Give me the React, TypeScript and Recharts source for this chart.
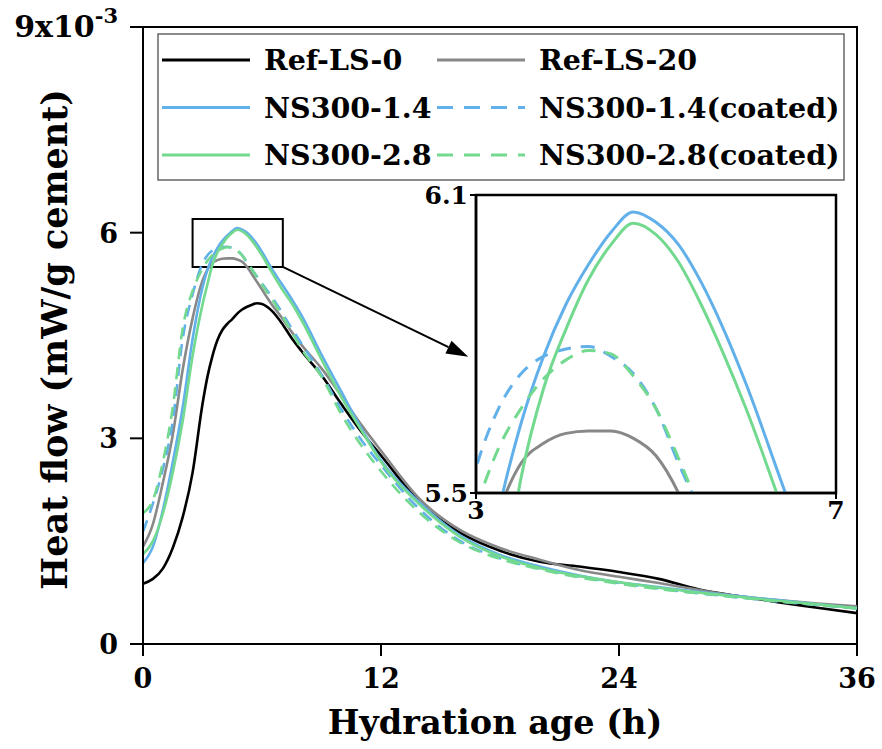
import React from 'react';
import { LineChart, Line, XAxis, YAxis, ReferenceArea, ReferenceLine } from 'recharts';

const hours = [0, 0.5, 1, 1.5, 2, 2.5, 3, 3.25, 3.5, 3.75, 4, 4.25, 4.5, 4.75, 5, 5.25, 5.5, 5.75, 6, 6.5, 7, 7.5, 8, 9, 10, 11, 12, 14, 16, 18, 20, 22, 24, 26, 28, 30, 32, 34, 36];

const refLS0 = [0.88, 0.95, 1.1, 1.4, 1.85, 2.5, 3.5, 3.9, 4.2, 4.43, 4.58, 4.67, 4.74, 4.82, 4.88, 4.92, 4.95, 4.97, 4.96, 4.86, 4.68, 4.46, 4.27, 3.92, 3.5, 3.1, 2.75, 2.05, 1.62, 1.36, 1.2, 1.13, 1.05, 0.95, 0.8, 0.7, 0.61, 0.53, 0.45];
const refLS20 = [1.42, 1.75, 2.35, 3.05, 4.0, 4.75, 5.3, 5.46, 5.56, 5.6, 5.62, 5.625, 5.625, 5.61, 5.575, 5.5, 5.39, 5.28, 5.17, 4.95, 4.76, 4.55, 4.36, 4.02, 3.62, 3.2, 2.82, 2.1, 1.66, 1.4, 1.23, 1.08, 0.98, 0.89, 0.79, 0.7, 0.64, 0.59, 0.55];
const ns14 = [1.18, 1.42, 1.95, 2.65, 3.45, 4.45, 5.2, 5.46, 5.64, 5.775, 5.88, 5.96, 6.025, 6.066, 6.045, 6.0, 5.925, 5.83, 5.72, 5.47, 5.25, 5.03, 4.79, 4.22, 3.68, 3.15, 2.68, 2.05, 1.58, 1.3, 1.13, 1.0, 0.9, 0.83, 0.76, 0.7, 0.64, 0.58, 0.52];
const ns14c = [1.64, 2.05, 2.55, 3.25, 4.45, 5.1, 5.55, 5.67, 5.74, 5.775, 5.79, 5.795, 5.775, 5.74, 5.67, 5.56, 5.46, 5.36, 5.26, 5.06, 4.84, 4.6, 4.38, 3.93, 3.42, 2.98, 2.61, 1.95, 1.5, 1.25, 1.1, 0.98, 0.89, 0.81, 0.74, 0.68, 0.62, 0.57, 0.52];
const ns28 = [1.31, 1.5, 1.9, 2.5, 3.25, 4.2, 4.95, 5.25, 5.53, 5.71, 5.83, 5.93, 6.0, 6.043, 6.02, 5.965, 5.88, 5.78, 5.67, 5.42, 5.18, 4.97, 4.72, 4.15, 3.6, 3.12, 2.66, 2.02, 1.56, 1.28, 1.11, 0.99, 0.9, 0.82, 0.75, 0.69, 0.63, 0.58, 0.52];
const ns28c = [1.91, 2.1, 2.65, 3.45, 4.6, 5.15, 5.47, 5.59, 5.67, 5.73, 5.768, 5.787, 5.78, 5.735, 5.67, 5.57, 5.46, 5.35, 5.24, 5.03, 4.8, 4.55, 4.3, 3.9, 3.35, 2.9, 2.52, 1.9, 1.48, 1.24, 1.09, 0.97, 0.88, 0.8, 0.74, 0.68, 0.62, 0.57, 0.52];

const xTicks = [0, 12, 24, 36];
const yTicks = [0, 3, 6, 9];
const insetXTicks = [3, 7];
const insetYTicks = [5.5, 6.1];

const data = hours.map((h, i) => ({
  h,
  refLS0: refLS0[i],
  refLS20: refLS20[i],
  ns14: ns14[i],
  ns14c: ns14c[i],
  ns28: ns28[i],
  ns28c: ns28c[i],
}));

const BLUE = '#62b0ea';
const GREEN = '#72d98e';
const GRAY = '#888888';

const series = [
  { key: 'refLS0', name: 'Ref-LS-0', color: '#000', dash: undefined },
  { key: 'refLS20', name: 'Ref-LS-20', color: GRAY, dash: undefined },
  { key: 'ns14', name: 'NS300-1.4', color: BLUE, dash: undefined },
  { key: 'ns14c', name: 'NS300-1.4(coated)', color: BLUE, dash: '12 8' },
  { key: 'ns28', name: 'NS300-2.8', color: GREEN, dash: undefined },
  { key: 'ns28c', name: 'NS300-2.8(coated)', color: GREEN, dash: '12 8' },
];

const FONT = '"DejaVu Serif", serif';
const tickStyle = { fill: '#000', fontSize: 27, fontWeight: 'bold', fontFamily: FONT };

const YTick = (props: any) => {
  const { x, y, payload } = props;
  if (payload.value === 9) {
    return (
      <text x={x} y={y + 10} textAnchor="end" style={{ ...tickStyle, fontSize: 30 }}>
        <tspan>9x10</tspan>
        <tspan dy={-14} fontSize={21}>-3</tspan>
      </text>
    );
  }
  return (
    <text x={x} y={y + 10} textAnchor="end" style={tickStyle}>{payload.value}</text>
  );
};

const Arrow = (props: any) => {
  const { x1, y1, x2, y2 } = props;
  const ang = Math.atan2(y2 - y1, x2 - x1);
  const L = 22, W = 7;
  const bx = x2 - L * Math.cos(ang), by = y2 - L * Math.sin(ang);
  const px = -Math.sin(ang) * W, py = Math.cos(ang) * W;
  return (
    <g>
      <line x1={x1} y1={y1} x2={bx} y2={by} stroke="#000" strokeWidth={2} />
      <polygon points={`${x2},${y2} ${bx + px},${by + py} ${bx - px},${by - py}`} fill="#000" />
    </g>
  );
};

function LegendBox() {
  const rows = [
    [series[0], series[1]],
    [series[2], series[3]],
    [series[4], series[5]],
  ];
  return (
    <svg width={688} height={148} style={{ position: 'absolute', left: 157, top: 33 }}>
      <rect x={1} y={1} width={686} height={146} fill="#fff" stroke="#666" strokeWidth={1.5} />
      {rows.map((r, i) => {
        const cy = 27 + i * 47.5;
        return (
          <g key={i}>
            {r.map((s, j) => {
              const lx = j === 0 ? 5 : 280;
              return (
                <g key={s.key}>
                  <line x1={lx} x2={lx + 88} y1={cy} y2={cy} stroke={s.color} strokeWidth={3} strokeDasharray={s.dash ? '16 11' : undefined} />
                  <text x={lx + 102} y={cy} dominantBaseline="central" style={{ fontFamily: FONT, fontWeight: 'bold', fontSize: 28.5, fill: '#000' }}>{s.name}</text>
                </g>
              );
            })}
          </g>
        );
      })}
    </svg>
  );
}

export default function App() {
  return (
    <div style={{ position: 'absolute', left: 0, top: 0, width: 882, height: 749, background: '#fff', fontFamily: FONT }}>
      <LineChart width={882} height={749} data={data} margin={{ top: 27, right: 25, bottom: 45, left: 20 }}>
        <XAxis
          dataKey="h"
          type="number"
          domain={[0, 36]}
          ticks={xTicks}
          interval={0}
          height={60}
          tickSize={12}
          tickMargin={13}
          tick={tickStyle}
          tickLine={{ stroke: '#000', strokeWidth: 2 }}
          axisLine={{ stroke: '#000', strokeWidth: 2 }}
          label={{
            content: (p: any) => (
              <text x={p.viewBox.x + p.viewBox.width / 2 - 5} y={734} textAnchor="middle" style={{ fontFamily: FONT, fontWeight: 'bold', fontSize: 33.5, fill: '#000' }}>Hydration age (h)</text>
            ),
          }}
        />
        <YAxis
          type="number"
          domain={[0, 9]}
          ticks={yTicks}
          interval={0}
          width={123}
          tickSize={13}
          tickMargin={12}
          tick={<YTick />}
          tickLine={{ stroke: '#000', strokeWidth: 2 }}
          axisLine={{ stroke: '#000', strokeWidth: 2 }}
          label={{
            content: (p: any) => {
              const cx = 54;
              const cy = p.viewBox.y + p.viewBox.height / 2 + 4;
              return (
                <text x={cx} y={cy} transform={`rotate(-90 ${cx} ${cy})`} textAnchor="middle" dominantBaseline="central" style={{ fontFamily: FONT, fontWeight: 'bold', fontSize: 35, fill: '#000' }}>Heat flow (mW/g cement)</text>
              );
            },
          }}
        />
        {series.map((s) => (
          <Line key={s.key} type="monotone" dataKey={s.key} name={s.name} stroke={s.color} strokeWidth={2.6} strokeDasharray={s.dash} dot={false} activeDot={false} isAnimationActive={false} />
        ))}
        <ReferenceArea x1={0} x2={36} y1={0} y2={9} fill="none" fillOpacity={0} stroke="#000" strokeWidth={2} />
        <ReferenceArea x1={2.5} x2={7.05} y1={5.5} y2={6.2} fill="none" fillOpacity={0} stroke="#000" strokeWidth={2} />
        <ReferenceLine segment={[{ x: 7.05, y: 5.5 }, { x: 16.4, y: 4.19 }]} shape={<Arrow />} />
      </LineChart>

      <LegendBox />

      <div style={{ position: 'absolute', left: 400, top: 180, width: 460, height: 350 }}>
        <LineChart width={460} height={350} data={data} margin={{ top: 15, right: 24, bottom: 0, left: 0 }}>
          <rect x={76} y={15} width={360} height={298} fill="#fff" />
          <XAxis
            dataKey="h"
            type="number"
            domain={[3, 7]}
            allowDataOverflow
            ticks={insetXTicks}
            interval={0}
            height={37}
            tickSize={6}
            tickMargin={2}
            tick={{ ...tickStyle, fontSize: 25 }}
            tickLine={{ stroke: '#000', strokeWidth: 2 }}
            axisLine={{ stroke: '#000', strokeWidth: 2.5 }}
          />
          <YAxis
            type="number"
            domain={[5.5, 6.1]}
            allowDataOverflow
            ticks={insetYTicks}
            interval={0}
            width={76}
            tickSize={6}
            tickMargin={2}
            tickFormatter={(v: number) => v.toFixed(1)}
            tick={{ ...tickStyle, fontSize: 25 }}
            tickLine={{ stroke: '#000', strokeWidth: 2 }}
            axisLine={{ stroke: '#000', strokeWidth: 2.5 }}
          />
          {series.map((s) => (
            <Line key={s.key} type="monotone" dataKey={s.key} stroke={s.color} strokeWidth={3} strokeDasharray={s.dash ? '14 10' : undefined} dot={false} activeDot={false} isAnimationActive={false} />
          ))}
          <ReferenceArea x1={3} x2={7} y1={5.5} y2={6.1} fill="none" fillOpacity={0} stroke="#000" strokeWidth={2.5} />
        </LineChart>
      </div>
    </div>
  );
}
